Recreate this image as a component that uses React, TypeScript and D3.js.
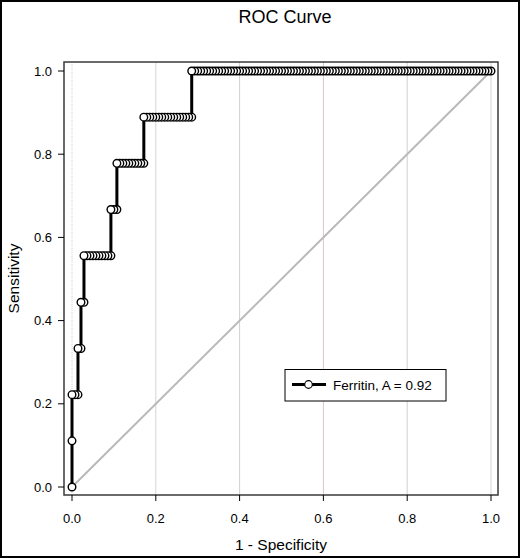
import React from "react";
import * as d3 from "d3";

const W = 520;
const H = 558;

// ROC data: 9 positive cases, 140 negative cases
const tprLevels = [0, 0.111, 0.222, 0.333, 0.444, 0.556, 0.667, 0.778, 0.889, 1.0];
// number of false positives at which each TPR level is reached
const fpCountAtLevel = [0, 0, 0, 2, 3, 4, 13, 15, 24, 40];
const negativeCount = 140;

const xTicks = [0, 0.2, 0.4, 0.6, 0.8, 1.0];
const yTicks = [0, 0.2, 0.4, 0.6, 0.8, 1.0];
const gridColors = ["#cfcfcf", "#d4d4d4", "#d0d0d0", "#dcc4cc", "#d0d0d0", "#d4d4d4"];

const legendLabel = "Ferritin, A = 0.92";
const FONT = "Arial, 'Liberation Sans', sans-serif";

const frame = { left: 64, top: 62, right: 498, bottom: 495 };

const x = d3.scaleLinear().domain([0, 1]).range([72, 491]);
const y = d3.scaleLinear().domain([0, 1]).range([487, 71]);

type Pt = { fpr: number; tpr: number };

// expand level/count table into the ROC operating points
const points: Pt[] = [];
tprLevels.forEach((tpr, i) => {
  const start = fpCountAtLevel[i];
  const end = i < tprLevels.length - 1 ? fpCountAtLevel[i + 1] : negativeCount;
  for (let k = start; k <= end; k++) points.push({ fpr: k / negativeCount, tpr });
});

const line = d3
  .line<Pt>()
  .x((d) => x(d.fpr))
  .y((d) => y(d.tpr));

const App = () => {
  const r = 3.8;
  return (
    <svg
      width={W}
      height={H}
      style={{ position: "absolute", left: 0, top: 0, background: "#fff" }}
      fontFamily={FONT}
    >
      <rect x={1} y={1} width={W - 2} height={H - 2} fill="#fff" stroke="#000" strokeWidth={2} />

      <text x={285} y={23} textAnchor="middle" fontSize={18} fill="#000">
        ROC Curve
      </text>

      {/* vertical grid */}
      {xTicks.map((t, i) => (
        <line
          key={"g" + t}
          x1={x(t)}
          x2={x(t)}
          y1={frame.top}
          y2={frame.bottom}
          stroke={gridColors[i]}
          strokeWidth={1}
          strokeDasharray={t === 0 ? "1,1" : undefined}
        />
      ))}

      {/* chance diagonal */}
      <line x1={x(0)} y1={y(0)} x2={x(1)} y2={y(1)} stroke="#b9b9b9" strokeWidth={2} />

      {/* frame */}
      <rect
        x={frame.left}
        y={frame.top}
        width={frame.right - frame.left}
        height={frame.bottom - frame.top}
        fill="none"
        stroke="#3a3a3a"
        strokeWidth={1.5}
      />

      {/* x axis ticks */}
      {xTicks.map((t) => (
        <g key={"x" + t}>
          <line x1={x(t)} x2={x(t)} y1={frame.bottom} y2={frame.bottom + 6} stroke="#000" />
          <text x={x(t)} y={523} textAnchor="middle" fontSize={13} fill="#000">
            {d3.format(".1f")(t)}
          </text>
        </g>
      ))}

      {/* y axis ticks */}
      {yTicks.map((t) => (
        <g key={"y" + t}>
          <line x1={frame.left - 6} x2={frame.left} y1={y(t)} y2={y(t)} stroke="#000" />
          <text x={52} y={y(t) + 4.5} textAnchor="end" fontSize={13} fill="#000">
            {d3.format(".1f")(t)}
          </text>
        </g>
      ))}

      <text x={281} y={550} textAnchor="middle" fontSize={15.5} fill="#000">
        1 - Specificity
      </text>
      <text
        transform={`translate(19,${(frame.top + frame.bottom) / 2}) rotate(-90)`}
        textAnchor="middle"
        fontSize={15.5}
        fill="#000"
      >
        Sensitivity
      </text>

      {/* ROC curve */}
      <path d={line(points) ?? ""} fill="none" stroke="#000" strokeWidth={3} />
      {points
        .slice()
        .reverse()
        .map((p, i) => (
          <circle key={i} cx={x(p.fpr)} cy={y(p.tpr)} r={r} fill="#fff" stroke="#000" strokeWidth={1.4} />
        ))}

      {/* legend */}
      <rect x={285} y={369.5} width={161} height={31.5} fill="#fff" stroke="#000" strokeWidth={1} />
      <line x1={292} x2={326} y1={384.5} y2={384.5} stroke="#000" strokeWidth={3} />
      <circle cx={308.5} cy={384.5} r={r} fill="#fff" stroke="#000" strokeWidth={1.2} />
      <text x={333} y={389.5} fontSize={13.5} fill="#000">
        {legendLabel}
      </text>
    </svg>
  );
};

export default App;
